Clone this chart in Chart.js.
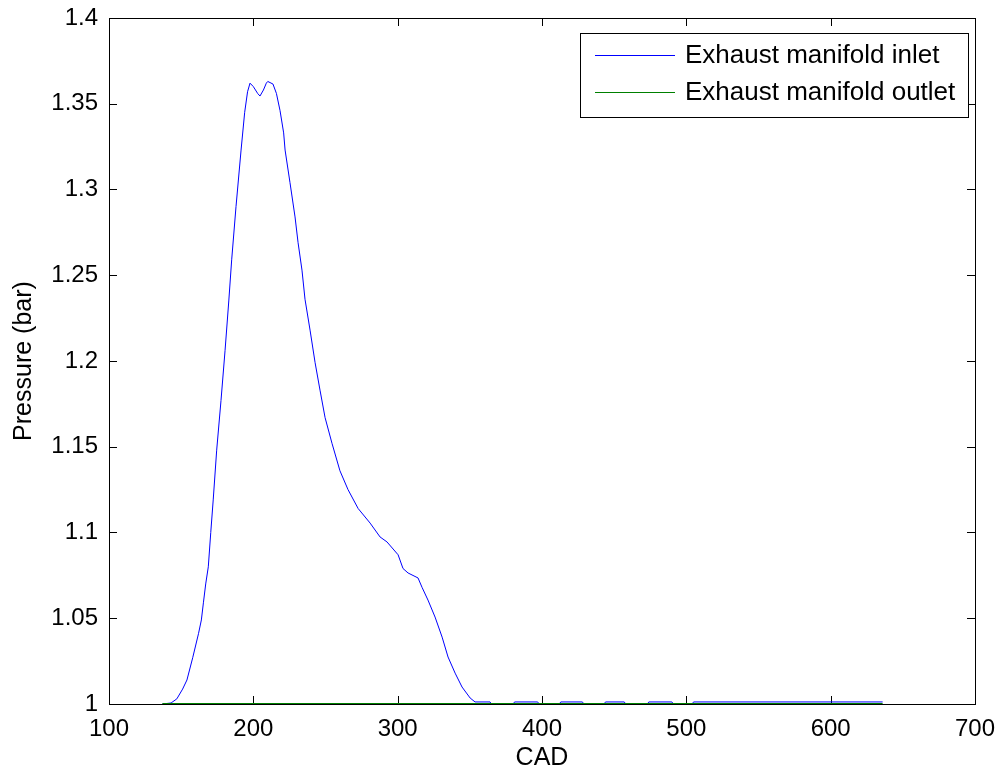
<!DOCTYPE html>
<html>
<head>
<meta charset="utf-8">
<script src="https://cdn.jsdelivr.net/npm/chart.js@4"></script>
<style>
  html, body { margin: 0; padding: 0; background: #fff; }
  #wrap { width: 1001px; height: 773px; }
</style>
</head>
<body>
<div id="wrap"><canvas id="pressureChart" width="1001" height="773"></canvas></div>
<script>
// Values
const cadInlet = [137, 143, 147, 151, 154, 158, 162, 164, 165.4, 167, 168.8, 170.5, 172.2, 174.6, 177.6,
    180.4, 183, 185, 188, 191.5, 194, 196, 197.7, 200, 203, 204.6, 207, 209, 210, 213.6, 216, 218.5,
    221, 222, 225.4, 228.9, 231, 233.7, 235.8, 239.3, 242.8, 246.2, 249.7, 254.5, 260, 265.6, 272.6,
    280.9, 287.8, 292.6, 300.3, 303.7, 307.2, 314.1, 316.9, 321, 325.9, 330.8, 334.9, 339.8, 344.6,
    350.2, 353.6, 364, 365, 380, 381, 397, 398, 412, 413, 428, 429, 443, 444, 457, 458, 473, 474,
    490, 491, 504, 505, 636];
const pInlet = [1.0, 1.0006, 1.003, 1.0087, 1.014, 1.027, 1.041, 1.049, 1.059, 1.070, 1.080, 1.100, 1.119, 1.148, 1.177,
    1.206, 1.235, 1.259, 1.290, 1.323, 1.345, 1.357, 1.362, 1.360, 1.356, 1.3545, 1.358, 1.362, 1.363, 1.3615, 1.356, 1.346,
    1.333, 1.323, 1.304, 1.284, 1.269, 1.253, 1.236, 1.218, 1.199, 1.183, 1.167, 1.152, 1.136, 1.125, 1.114,
    1.1055, 1.0974, 1.0945, 1.087, 1.079, 1.0764, 1.0735, 1.068, 1.0606, 1.0507, 1.039, 1.0274, 1.018, 1.0099,
    1.0035, 1.0012, 1.0012, 1.0, 1.0, 1.0012, 1.0012, 1.0, 1.0, 1.0012, 1.0012, 1.0, 1.0, 1.0012, 1.0012, 1.0, 1.0, 1.0012,
    1.0012, 1.0, 1.0, 1.0012, 1.0012];
const cadOutlet = [137, 636];
const pOutlet = [1.0, 1.0];

const xTicks = [100, 200, 300, 400, 500, 600, 700];
const yTicks = [1, 1.05, 1.1, 1.15, 1.2, 1.25, 1.3, 1.35, 1.4];

const FONT = 'Arial, "Liberation Sans", Helvetica, sans-serif';

const toPoints = (xs, ys) => xs.map((x, i) => ({ x: x, y: ys[i] }));

// MATLAB style box with inward ticks on all four sides (under the lines)
const matlabAxes = {
    id: 'matlabAxes',
    beforeDatasetsDraw(chart) {
        const ctx = chart.ctx;
        const a = chart.chartArea;
        const xs = chart.scales.x;
        const ys = chart.scales.y;
        const len = 8;
        ctx.save();
        ctx.strokeStyle = '#000';
        ctx.lineWidth = 1;
        ctx.beginPath();
        xTicks.forEach(v => {
            const px = Math.round(xs.getPixelForValue(v)) + 0.5;
            ctx.moveTo(px, a.bottom);
            ctx.lineTo(px, a.bottom - len);
            ctx.moveTo(px, a.top);
            ctx.lineTo(px, a.top + len);
        });
        yTicks.forEach(v => {
            const py = Math.round(ys.getPixelForValue(v)) + 0.5;
            ctx.moveTo(a.left, py);
            ctx.lineTo(a.left + len, py);
            ctx.moveTo(a.right, py);
            ctx.lineTo(a.right - len, py);
        });
        ctx.stroke();
        ctx.strokeRect(Math.round(a.left) + 0.5, Math.round(a.top) + 0.5,
            Math.round(a.right - a.left), Math.round(a.bottom - a.top));
        ctx.restore();
    },
    afterDatasetsDraw(chart) {
        const ctx = chart.ctx;
        // legend box
        const lx = 580, ly = 33, lw = 388, lh = 84;
        ctx.save();
        ctx.fillStyle = '#fff';
        ctx.fillRect(lx, ly, lw, lh);
        ctx.strokeStyle = '#000';
        ctx.lineWidth = 1;
        ctx.strokeRect(lx + 0.5, ly + 0.5, lw, lh);
        ctx.font = '26px ' + FONT;
        ctx.textBaseline = 'middle';
        const rows = [chart.data.datasets[1], chart.data.datasets[0]];
        rows.forEach((ds, i) => {
            const y = ly + 22 + i * 37 + 0.5;
            ctx.strokeStyle = ds.borderColor;
            ctx.lineWidth = 1;
            ctx.beginPath();
            ctx.moveTo(lx + 15, y);
            ctx.lineTo(lx + 95, y);
            ctx.stroke();
            ctx.fillStyle = '#000';
            ctx.fillText(ds.label, lx + 105, y);
        });
        ctx.restore();
    }
};

const bgWhite = {
    id: 'bgWhite',
    beforeDraw(chart) {
        const ctx = chart.ctx;
        ctx.save();
        ctx.fillStyle = '#fff';
        ctx.fillRect(0, 0, chart.width, chart.height);
        ctx.restore();
    }
};

new Chart(document.getElementById('pressureChart').getContext('2d'), {
    type: 'scatter',
    data: {
        datasets: [
            {
                label: 'Exhaust manifold outlet',
                data: toPoints(cadOutlet, pOutlet),
                showLine: true,
                borderColor: 'rgb(0, 128, 0)',
                borderWidth: 2,
                pointRadius: 0,
                order: 0
            },
            {
                label: 'Exhaust manifold inlet',
                data: toPoints(cadInlet, pInlet),
                showLine: true,
                borderColor: 'rgb(0, 0, 255)',
                borderWidth: 1,
                pointRadius: 0,
                order: 1
            }
        ]
    },
    options: {
        responsive: false,
        animation: false,
        layout: { padding: { left: 0, top: 18, right: 26, bottom: 0 } },
        plugins: {
            legend: { display: false },
            tooltip: { enabled: false }
        },
        scales: {
            x: {
                type: 'linear',
                min: 100,
                max: 700,
                afterBuildTicks: s => { s.ticks = xTicks.map(v => ({ value: v })); },
                afterFit: s => { s.height = 69; s.paddingLeft = 0; s.paddingRight = 0; },
                grid: { display: false, drawTicks: false },
                border: { display: false },
                ticks: { color: '#000', font: { family: FONT, size: 24 }, padding: 11 },
                title: { display: true, text: 'CAD', color: '#000', font: { family: FONT, size: 25 }, padding: 0 }
            },
            y: {
                type: 'linear',
                min: 1,
                max: 1.4,
                afterBuildTicks: s => { s.ticks = yTicks.map(v => ({ value: v })); },
                afterFit: s => { s.width = 109; s.paddingTop = 0; s.paddingBottom = 0; },
                grid: { display: false, drawTicks: false },
                border: { display: false },
                ticks: {
                    color: '#000',
                    font: { family: FONT, size: 24 },
                    padding: 11,
                    callback: v => String(parseFloat(v.toFixed(2)))
                },
                title: { display: true, text: 'Pressure (bar)', color: '#000', font: { family: FONT, size: 25 }, padding: { top: 9, bottom: 0 } }
            }
        }
    },
    plugins: [bgWhite, matlabAxes]
});
</script>
</body>
</html>
